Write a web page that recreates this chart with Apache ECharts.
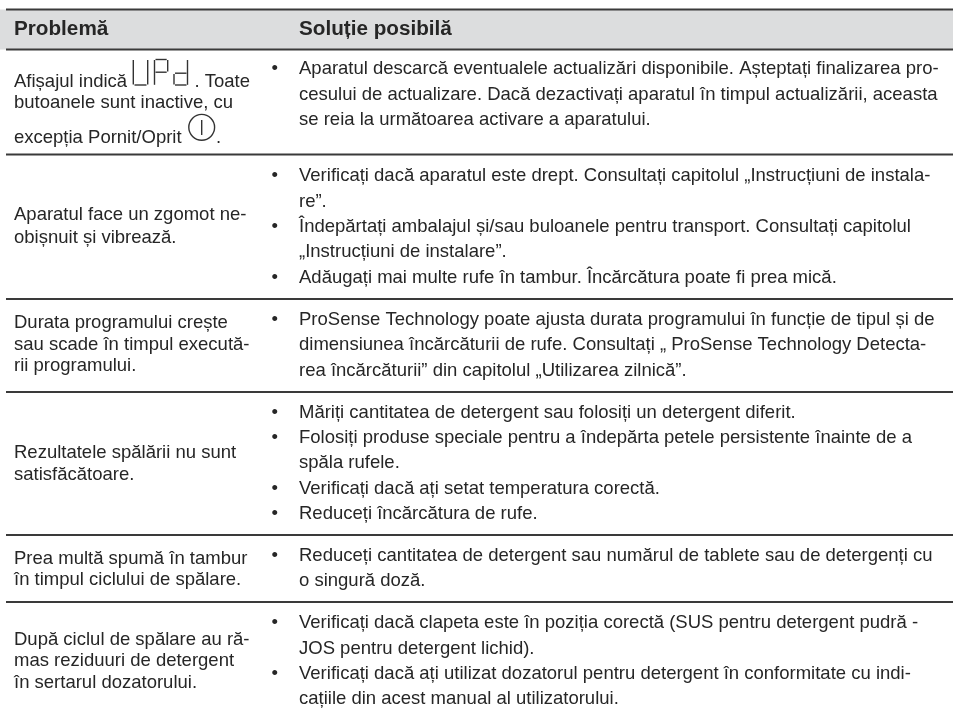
<!DOCTYPE html>
<html><head><meta charset="utf-8">
<style>html,body{margin:0;padding:0;background:#fff}#c{width:953px;height:717px}</style>
<script src="https://cdn.jsdelivr.net/npm/echarts@6/dist/echarts.min.js"></script>
</head><body><div id="c"></div>
<script>
// ---- content ----
const headers = ["Problemă", "Soluție posibilă"];
const problemLines = [
  "Afișajul indică", ". Toate", "butoanele sunt inactive, cu", "excepția Pornit/Oprit", ".",
  "Aparatul face un zgomot ne-", "obișnuit și vibrează.",
  "Durata programului crește", "sau scade în timpul execută-", "rii programului.",
  "Rezultatele spălării nu sunt", "satisfăcătoare.",
  "Prea multă spumă în tambur", "în timpul ciclului de spălare.",
  "După ciclul de spălare au ră-", "mas reziduuri de detergent", "în sertarul dozatorului."
];
const solutionLines = [
  "Aparatul descarcă eventualele actualizări disponibile. Așteptați finalizarea pro-",
  "cesului de actualizare. Dacă dezactivați aparatul în timpul actualizării, aceasta",
  "se reia la următoarea activare a aparatului.",
  "Verificați dacă aparatul este drept. Consultați capitolul „Instrucțiuni de instala-",
  "re”.",
  "Îndepărtați ambalajul și/sau buloanele pentru transport. Consultați capitolul",
  "„Instrucțiuni de instalare”.",
  "Adăugați mai multe rufe în tambur. Încărcătura poate fi prea mică.",
  "ProSense Technology poate ajusta durata programului în funcție de tipul și de",
  "dimensiunea încărcăturii de rufe. Consultați „ ProSense Technology Detecta-",
  "rea încărcăturii” din capitolul „Utilizarea zilnică”.",
  "Măriți cantitatea de detergent sau folosiți un detergent diferit.",
  "Folosiți produse speciale pentru a îndepărta petele persistente înainte de a",
  "spăla rufele.",
  "Verificați dacă ați setat temperatura corectă.",
  "Reduceți încărcătura de rufe.",
  "Reduceți cantitatea de detergent sau numărul de tablete sau de detergenți cu",
  "o singură doză.",
  "Verificați dacă clapeta este în poziția corectă (SUS pentru detergent pudră -",
  "JOS pentru detergent lichid).",
  "Verificați dacă ați utilizat dozatorul pentru detergent în conformitate cu indi-",
  "cațiile din acest manual al utilizatorului."
];
const bulletFlags = [1,0,0, 1,0,1,0,1, 1,0,0, 1,1,0,1,1, 1,0, 1,0,1,0];

// ---- layout ----
const W = 953, H = 717;
const colX = [14, 299], bulletX = 271.5;
const ruleY = [49.5, 154.5, 299, 392, 535, 602];
const problemBase = [87, 87, 107.5, 142.5, 142.5, 220, 243, 328, 350, 371, 458, 479.5, 563.5, 584.5, 645, 666, 687.5];
const problemX = [14, 194.5, 14, 14, 216, 14,14,14,14,14,14,14,14,14,14,14,14];
const solutionBase = [74, 99.5, 125, 180.5, 206.5, 231.5, 257, 282.5, 324.5, 350, 375.5, 417.5, 442.5, 468, 493.5, 518.5, 560.5, 586, 627.5, 653.5, 678.5, 704];
const SZ = 18.5, BOLD = 20.7, INK = '#262626', FAM = '"Liberation Sans"';
const MID = 0.25 * SZ;

// build text records
const texts = [];
headers.forEach((t, i) => texts.push([colX[i], 34.7 - 0.25 * BOLD, t, 'bold ' + BOLD + 'px ' + FAM]));
problemLines.forEach((t, i) => texts.push([problemX[i], problemBase[i] - MID, t, SZ + 'px ' + FAM]));
solutionLines.forEach((t, i) => {
  texts.push([colX[1], solutionBase[i] - MID, t, SZ + 'px ' + FAM]);
  if (bulletFlags[i]) texts.push([bulletX, solutionBase[i] - MID, '•', SZ + 'px ' + FAM]);
});

// seven-segment "UPd" and the power symbol's bar, as strokes
const glyphs = [
  // U
  [[133.3,60],[133.3,84.4]], [[134.5,85],[146.5,85]], [[147.7,60],[147.7,84.4]],
  // P
  [[154.5,60],[154.5,84.8]], [[155.5,59.5],[166.7,59.5]], [[167.7,60],[167.7,71.6]], [[155.5,72.2],[166.7,72.2]],
  // d
  [[187.5,60],[187.5,84.8]], [[175,73.2],[186.5,73.2]], [[174,74],[174,84.4]], [[175,85],[186.5,85]],
  // bar of the power symbol
  [[201.7,120],[201.7,135]]
];
const icon = [201.7, 127.3, 12.9];

const chart = echarts.init(document.getElementById('c'), null, {renderer:'canvas'});
chart.setOption({
  animation:false,
  backgroundColor:'#fff',
  grid:{left:0,right:0,top:0,bottom:0},
  xAxis:{type:'value',min:0,max:W,show:false},
  yAxis:{type:'value',min:0,max:H,inverse:true,show:false},
  tooltip:{show:false},
  series:[
    {type:'custom',silent:true,z:1,data:[[0,9.5,W,49.5]],encode:{x:[0,2],y:[1,3]},
      renderItem:(p,api)=>{
        const a=api.coord([api.value(0),api.value(1)]),b=api.coord([api.value(2),api.value(3)]);
        return {type:'rect',shape:{x:a[0],y:a[1],width:b[0]-a[0],height:b[1]-a[1]},style:{fill:'#dcddde'}};
      }},
    {type:'custom',silent:true,z:2,data:[[9.5,2.2]].concat(ruleY.map(y=>[y,2])),encode:{y:0},
      renderItem:(p,api)=>{
        const y=api.coord([0,api.value(0)])[1];
        const x0=api.coord([6,0])[0], x1=api.coord([W,0])[0];
        return {type:'line',shape:{x1:x0,y1:y,x2:x1,y2:y},style:{stroke:'#3a3a3a',lineWidth:api.value(1)}};
      }},
    {type:'custom',silent:true,z:3,data:glyphs.map((g,i)=>[i]),encode:{},
      renderItem:(p,api)=>{
        const pts=glyphs[api.value(0)].map(q=>api.coord(q));
        return {type:'polyline',shape:{points:pts},style:{stroke:'#333',lineWidth:1.4,fill:null}};
      }},
    {type:'custom',silent:true,z:3,data:[icon],encode:{x:0,y:1},
      renderItem:(p,api)=>{
        const c=api.coord([api.value(0),api.value(1)]);
        return {type:'circle',shape:{cx:c[0],cy:c[1],r:api.value(2)},style:{stroke:'#333',lineWidth:1.4,fill:null}};
      }},
    {type:'custom',silent:true,z:4,data:texts,encode:{x:0,y:1},
      renderItem:(p,api)=>{
        const r=texts[p.dataIndex];
        const c=api.coord([r[0],r[1]]);
        return {type:'text',x:c[0],y:c[1],style:{text:r[2],font:r[3],fill:INK,align:'left',verticalAlign:'middle'}};
      }}
  ]
});
</script></body></html>
